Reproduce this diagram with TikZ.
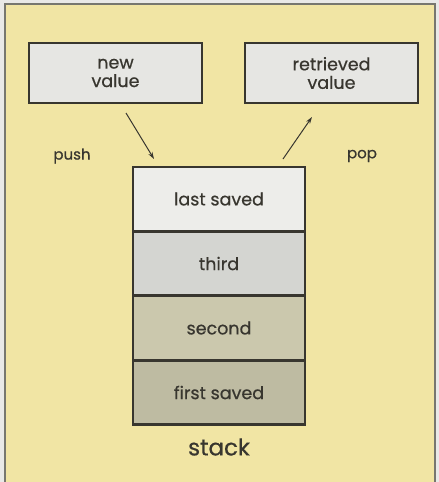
\documentclass[tikz,border=0pt]{standalone}
\usepackage{fontspec}
\setmainfont{Poppins}[UprightFeatures={FakeBold=0.6}]
\usetikzlibrary{arrows.meta}
\definecolor{outside}{HTML}{E9E9E7}
\definecolor{panel}{HTML}{F1E5A4}
\definecolor{frameline}{HTML}{77776F}
\definecolor{ink}{HTML}{38362F}
\definecolor{boxfill}{HTML}{E6E6E3}
\definecolor{cA}{HTML}{EDEDEA}
\definecolor{cB}{HTML}{D4D5D1}
\definecolor{cC}{HTML}{CBC8AD}
\definecolor{cD}{HTML}{BEBBA2}
\begin{document}
\begin{tikzpicture}[x=1pt,y=-1pt,
  valbox/.style={draw=ink,line width=2.4pt,fill=boxfill,minimum width=173pt,minimum height=60pt,align=center,font=\fontsize{17.5}{18.5}\selectfont,text=ink,inner sep=0pt},
  cell/.style={draw=ink,line width=2.2pt,minimum width=172pt,minimum height=64pt,font=\fontsize{17.5}{18}\selectfont,text=ink,inner sep=0pt},
  lab/.style={font=\fontsize{15}{16}\selectfont,text=ink},
  arr/.style={draw=ink,line width=1pt,-{Stealth[length=7pt,width=4.5pt]}}]
\useasboundingbox (0,0) rectangle (439,482);
\fill[outside] (0,0) rectangle (439,482);
\fill[panel,draw=frameline,line width=1.5pt] (5,4) rectangle (435,495);
\node[valbox] (new) at (115.5,73) {new\\value};
\node[valbox] (ret) at (331.5,73) {retrieved\\value};
\node[cell,fill=cA] (c1) at (219,199) {last saved};
\node[cell,fill=cB] (c2) at (219,263.5) {third};
\node[cell,fill=cC] (c3) at (219,328) {second};
\node[cell,fill=cD] (c4) at (219,392.5) {first saved};
\node[font=\fontsize{23}{24}\selectfont,text=ink] (stk) at (219,447) {stack};
\node[lab] (push) at (72,156) {push};
\node[lab] (pop) at (362,156) {pop};
\coordinate (p1) at (126,113);
\coordinate (p2) at (154,159);
\coordinate (q1) at (283,159);
\coordinate (q2) at (312,117);
\draw[arr] (p1) -- (p2);
\draw[arr] (q1) -- (q2);
\end{tikzpicture}
\end{document}
